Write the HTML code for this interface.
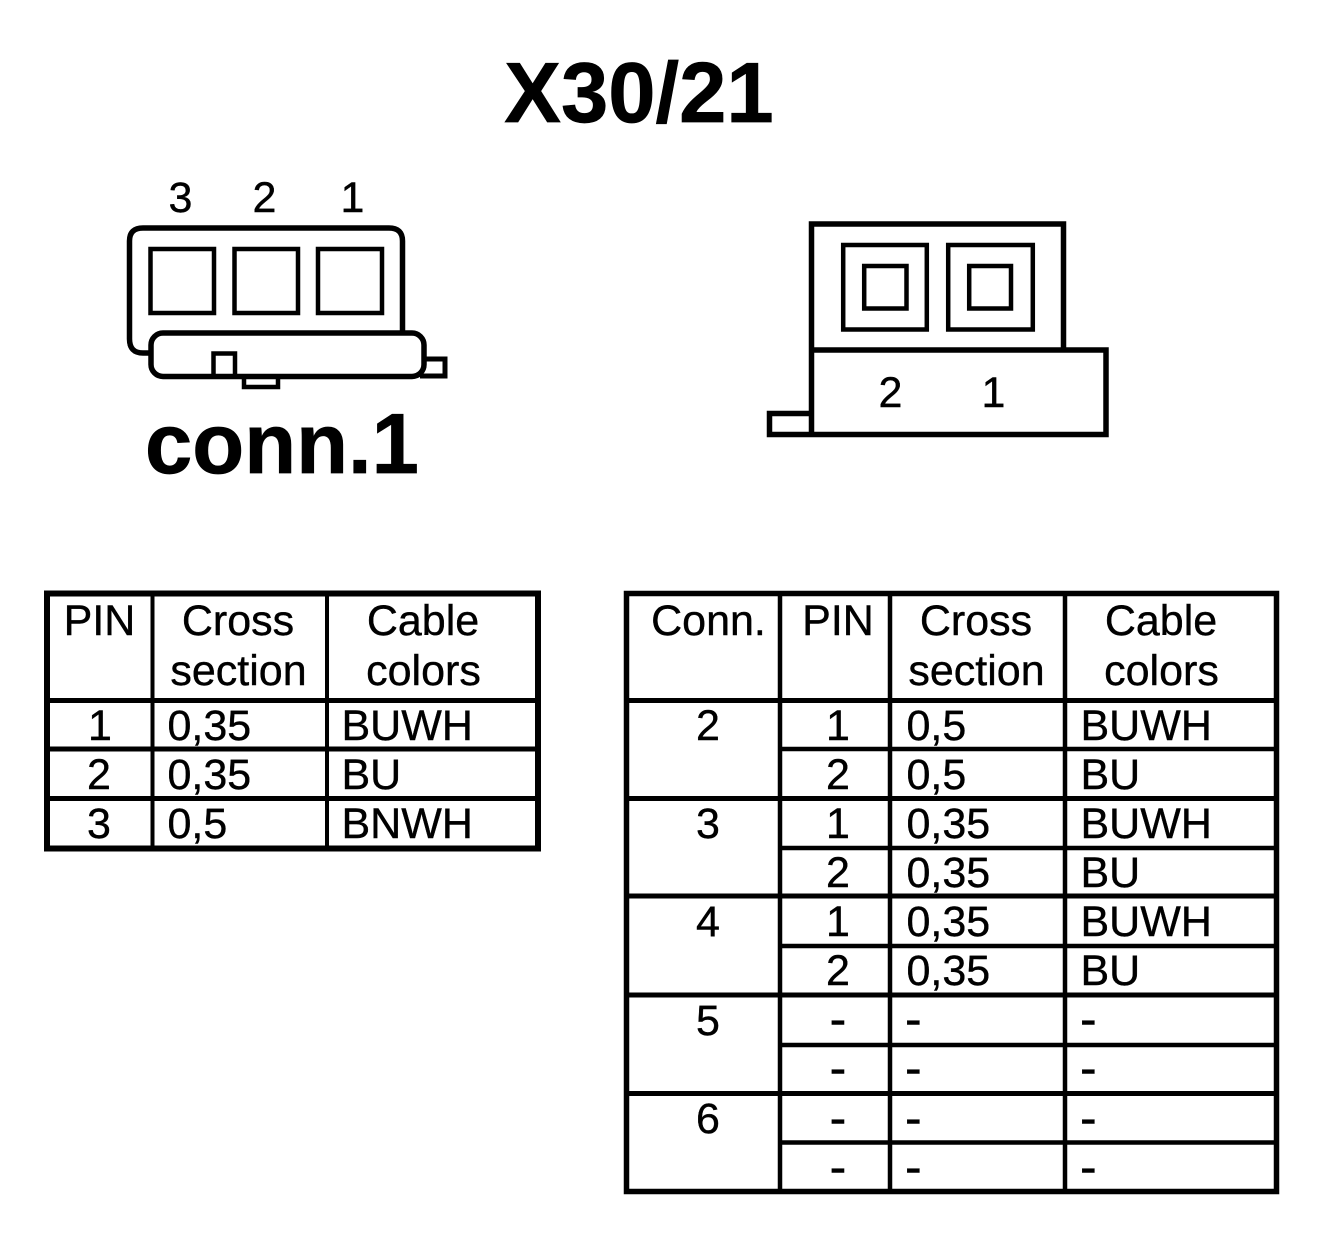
<!DOCTYPE html>
<html><head><meta charset="utf-8"><style>
html,body{margin:0;padding:0;background:#fff;width:1328px;height:1240px;overflow:hidden}
svg{display:block}
text{font-family:"Liberation Sans",Arial,sans-serif;fill:#000;font-size:43px;stroke:#000;stroke-width:.4px}
.c{text-anchor:middle}
.b{font-weight:bold;font-size:85px;stroke-width:.7px}
.d{font-size:50px}
.l line,.l rect,.l path{stroke:#000;fill:none}
</style></head><body>
<svg width="1328" height="1240" viewBox="0 0 1328 1240" xmlns="http://www.w3.org/2000/svg">
<rect width="1328" height="1240" fill="#fff"/>
<text class="b c" x="639" y="122">X30/21</text>
<text class="b" x="145" y="473">conn.1</text>

<text class="c" x="180.500" y="212">3</text><text class="c" x="264.500" y="212">2</text><text class="c" x="352.500" y="212">1</text>
<text class="c" x="890.500" y="407">2</text><text class="c" x="993.500" y="407">1</text>

<g class="l">
<!-- connector 1 -->
<path stroke-width="5.5" d="M150 353H143Q129.500 353 129.500 339V241Q129.500 228 143 228H389Q402.500 228 402.500 241V332"/>
<rect x="150.500" y="249" width="63.500" height="64" stroke-width="4.500"/>
<rect x="234.500" y="249" width="63.500" height="64" stroke-width="4.500"/>
<rect x="318" y="249" width="64" height="64" stroke-width="4.500"/>
<rect x="151" y="333" width="273" height="43.500" rx="12" stroke-width="5.500"/>
<path stroke-width="4.500" d="M213.500 376V353.500H235V376"/>
<path stroke-width="4.500" d="M244 378V387H278V378"/>
<path stroke-width="5" d="M424 359H445V376H420"/>

<!-- connector 2 -->
<path stroke-width="5.500" d="M811.500 434.500V224H1063.500V350"/>
<path stroke-width="5.500" d="M811.500 350H1106V434.500H769.500V413.500H811.500"/>
<rect x="843.200" y="245" width="83.600" height="84.500" stroke-width="4.500"/>
<rect x="948.200" y="245" width="84.600" height="84.500" stroke-width="4.500"/>
<rect x="864.200" y="266" width="42.300" height="42.500" stroke-width="4.500"/>
<rect x="969.200" y="266" width="41.800" height="42.500" stroke-width="4.500"/>

<!-- left table -->
<rect x="47" y="593.500" width="491" height="255" stroke-width="6"/>
<path stroke-width="4" d="M152.500 593V848M327 593V848"/>
<path stroke-width="5" d="M47 700.500H538M47 749H538M47 798.500H538"/>

<!-- right table -->
<rect x="626.500" y="593.500" width="650" height="598" stroke-width="5.500"/>
<path stroke-width="4.500" d="M780 593V1191M890 593V1191M1065 593V1191"/>
<path stroke-width="5" d="M626 700.500H1277M626 798.500H1277M626 896H1277M626 995H1277M626 1093.500H1277"/>
<path stroke-width="4.500" d="M780 749H1277M780 848H1277M780 946H1277M780 1045H1277M780 1142.500H1277"/>
</g>

<!-- left table text -->
<text class="c" x="99.500" y="635">PIN</text>
<text class="c" x="238" y="635">Cross</text>
<text class="c" x="238.500" y="685">section</text>
<text class="c" x="423" y="635">Cable</text>
<text class="c" x="423.500" y="685">colors</text>
<text class="c" x="100" y="740">1</text><text x="167.500" y="740">0,35</text><text x="341.500" y="740">BUWH</text>
<text class="c" x="99" y="789">2</text><text x="167.500" y="789">0,35</text><text x="341.500" y="789">BU</text>
<text class="c" x="99" y="838">3</text><text x="167.500" y="838">0,5</text><text x="341.500" y="838">BNWH</text>

<!-- right table text -->
<text class="c" x="708.500" y="635">Conn.</text>
<text class="c" x="838" y="635">PIN</text>
<text class="c" x="976" y="635">Cross</text>
<text class="c" x="976.500" y="685">section</text>
<text class="c" x="1161" y="635">Cable</text>
<text class="c" x="1161.500" y="685">colors</text>

<text class="c" x="708" y="740">2</text>
<text class="c" x="708" y="838">3</text>
<text class="c" x="708" y="936">4</text>
<text class="c" x="708" y="1035">5</text>
<text class="c" x="708" y="1133">6</text>

<text class="c" x="838" y="740">1</text><text x="906.500" y="740">0,5</text><text x="1080.500" y="740">BUWH</text>
<text class="c" x="838" y="789">2</text><text x="906.500" y="789">0,5</text><text x="1080.500" y="789">BU</text>
<text class="c" x="838" y="838">1</text><text x="906.500" y="838">0,35</text><text x="1080.500" y="838">BUWH</text>
<text class="c" x="838" y="887">2</text><text x="906.500" y="887">0,35</text><text x="1080.500" y="887">BU</text>
<text class="c" x="838" y="936">1</text><text x="906.500" y="936">0,35</text><text x="1080.500" y="936">BUWH</text>
<text class="c" x="838" y="985">2</text><text x="906.500" y="985">0,35</text><text x="1080.500" y="985">BU</text>

<text class="c d" x="838" y="1036">-</text><text class="d" x="905" y="1036">-</text><text class="d" x="1080" y="1036">-</text>
<text class="c d" x="838" y="1085">-</text><text class="d" x="905" y="1085">-</text><text class="d" x="1080" y="1085">-</text>
<text class="c d" x="838" y="1135">-</text><text class="d" x="905" y="1135">-</text><text class="d" x="1080" y="1135">-</text>
<text class="c d" x="838" y="1184">-</text><text class="d" x="905" y="1184">-</text><text class="d" x="1080" y="1184">-</text>
</svg>
</body></html>
